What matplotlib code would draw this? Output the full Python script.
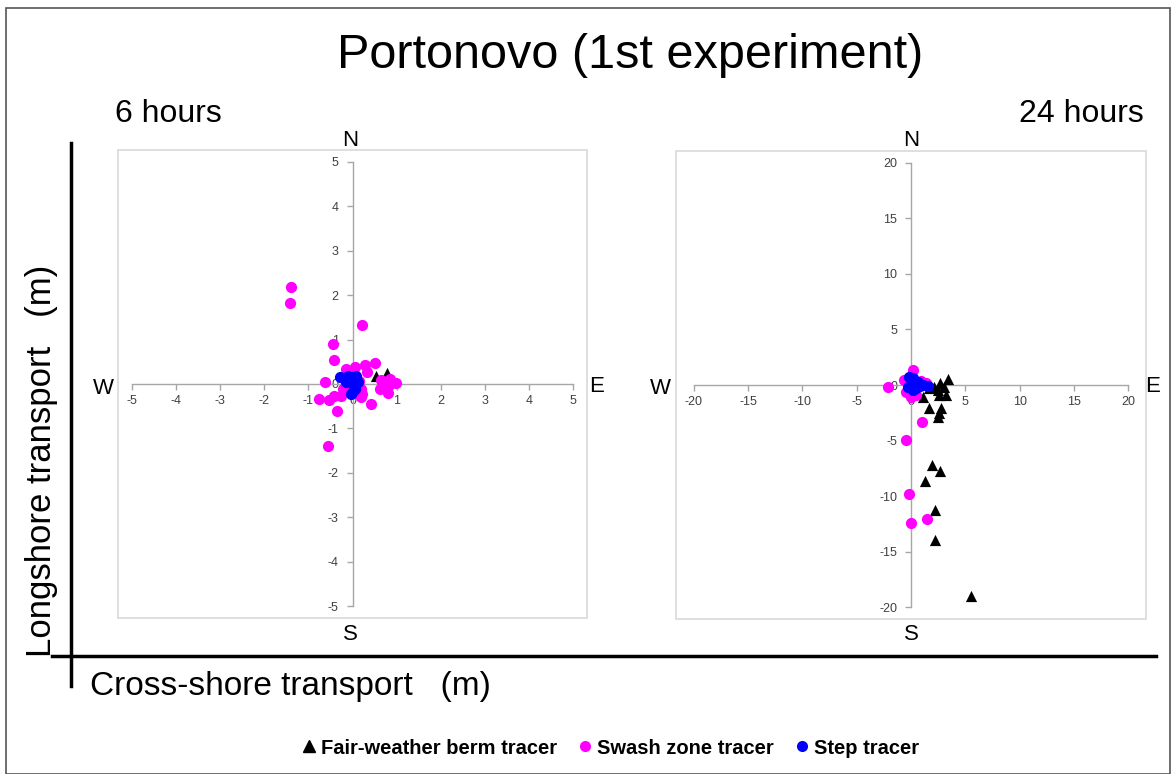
import matplotlib.pyplot as plt
from matplotlib.lines import Line2D
from matplotlib.patches import Rectangle
import numpy as np

plt.rcParams["font.family"] = ["Liberation Sans", "DejaVu Sans"]
plt.rcParams["axes.unicode_minus"] = False

# 6 hours: displacements (m), x = cross-shore, y = longshore
berm6_x = [0.54, 0.78]
berm6_y = [0.17, 0.24]
swash6_x = [-1.40, -1.42, 0.21, -0.44, -0.41, 0.50, 0.29, 0.33, -0.14, 0.05,
            -0.63, 0.65, 0.84, 0.99, 0.82, 0.63, 0.80, -0.76, -0.54, -0.42,
            -0.22, -0.26, 0.19, 0.22, 0.41, -0.36, -0.56, 0.19, 0.15, 0.72]
swash6_y = [2.17, 1.82, 1.33, 0.89, 0.53, 0.47, 0.42, 0.27, 0.34, 0.38,
            0.04, 0.09, 0.12, 0.02, -0.03, -0.11, -0.21, -0.33, -0.36, -0.28,
            -0.11, -0.26, -0.30, -0.22, -0.45, -0.60, -1.40, -0.11, 0.07, 0.05]
step6_x = [-0.29, -0.11, 0.00, 0.12, 0.00, 0.01, -0.03, 0.03, -0.14, 0.07, 0.05]
step6_y = [0.15, 0.19, 0.15, 0.04, 0.00, -0.15, -0.22, -0.07, 0.04, 0.17, -0.12]

# 24 hours
berm24_x = [3.38, 2.71, 2.16, 1.70, 3.08, 2.47, 3.23, 2.62, 1.08, 1.70, 2.77,
            2.47, 2.62, 1.92, 2.68, 1.33, 2.19, 2.22, 5.53]
berm24_y = [0.54, 0.15, -0.15, -0.30, -0.15, -0.45, -0.90, -0.90, -1.05, -2.10,
            -2.10, -2.85, -2.50, -7.20, -7.75, -8.62, -11.26, -14.00, -19.00]
swash24_x = [0.17, -2.13, -0.60, -0.44, 0.48, 1.40, 1.03, 0.00, -0.44, -0.20,
             1.49, 0.00, 0.90]
swash24_y = [1.35, -0.15, 0.45, -0.60, -0.90, 0.15, -3.30, -1.05, -4.95, -9.85,
             -12.10, -12.46, 0.40]
step24_x = [-0.14, 0.18, -0.30, 0.48, 1.08, 1.55, 0.63, 0.10, 0.17, 0.85, 0.30]
step24_y = [0.75, 0.60, -0.15, -0.30, 0.00, -0.06, 0.30, 0.30, -0.45, -0.10, 0.10]

ticks6 = np.arange(-5, 6, 1)
ticks24 = np.arange(-20, 25, 5)

W, H = 1175, 774
fig = plt.figure(figsize=(W / 100, H / 100), dpi=100)


def fx(px):
    return px / W


def fy(py):
    return 1 - py / H


def compass_axes(box, lim, pad_x, pad_y, ticks):
    l, t, r, b = box
    ax = fig.add_axes([fx(l), fy(b), fx(r) - fx(l), fy(t) - fy(b)])
    ax.set_xlim(-lim - pad_x, lim + pad_x)
    ax.set_ylim(-lim - pad_y, lim + pad_y)
    for s in ["top", "right"]:
        ax.spines[s].set_visible(False)
    for s in ["left", "bottom"]:
        ax.spines[s].set_position(("data", 0))
        ax.spines[s].set_color("#a6a6a6")
        ax.spines[s].set_linewidth(1.0)
    ax.spines["bottom"].set_bounds(-lim, lim)
    ax.spines["left"].set_bounds(-lim, lim)
    ax.set_xticks(ticks)
    ax.set_yticks(ticks)
    ax.tick_params(axis="both", direction="out", length=4, width=1,
                   color="#a6a6a6", labelsize=9, labelcolor="#404040")
    ax.tick_params(axis="x", pad=4)
    ax.tick_params(axis="y", pad=6)
    ax.add_patch(Rectangle((0, 0), 1, 1, transform=ax.transAxes, fill=False,
                           ec="#d9d9d9", lw=1.2, clip_on=False, zorder=0))
    return ax


ax1 = compass_axes((118, 150, 587, 618), 5, 0.31, 0.26, ticks6)
ax2 = compass_axes((676, 151, 1146, 619), 20, 1.62, 1.08, ticks24)

ms = 65
for ax, bx, by, sx, sy, tx, ty in [
        (ax1, berm6_x, berm6_y, swash6_x, swash6_y, step6_x, step6_y),
        (ax2, berm24_x, berm24_y, swash24_x, swash24_y, step24_x, step24_y)]:
    ax.scatter(bx, by, marker="^", s=ms, c="black", lw=0, zorder=3)
    ax.scatter(sx, sy, marker="o", s=ms, c="#ff00ff", lw=0, zorder=4)
    ax.scatter(tx, ty, marker="o", s=ms, c="#0000ff", lw=0, zorder=5)

# Compass letters
for x_n, x_w, x_e in [(350, 103, 597), (911, 660, 1153)]:
    fig.text(fx(x_n), fy(140), "N", ha="center", va="center", fontsize=16)
    fig.text(fx(x_n), fy(634), "S", ha="center", va="center", fontsize=16)
    fig.text(fx(x_w), fy(388), "W", ha="center", va="center", fontsize=16)
    fig.text(fx(x_e), fy(386), "E", ha="center", va="center", fontsize=16)

# Titles
fig.text(fx(630), fy(55), "Portonovo (1st experiment)", ha="center",
         va="center", fontsize=35)
fig.text(fx(115), fy(114), "6 hours", ha="left", va="center", fontsize=23)
fig.text(fx(1144), fy(114), "24 hours", ha="right", va="center", fontsize=23)

# Global axes labels and frame lines
fig.text(fx(42), fy(461), "Longshore transport   (m)", rotation=90,
         ha="center", va="center", fontsize=25)
fig.text(fx(90), fy(686), "Cross-shore transport   (m)", ha="left",
         va="center", fontsize=24)
fig.add_artist(Line2D([fx(71), fx(71)], [fy(143), fy(686)], color="black",
                      lw=2.5))
fig.add_artist(Line2D([fx(52), fx(1156)], [fy(656), fy(656)], color="black",
                      lw=2.5))
fig.add_artist(Rectangle((fx(6), fy(774)), fx(1170) - fx(6), fy(8) - fy(774),
                         transform=fig.transFigure, fill=False, ec="#555555",
                         lw=1.2))

# Legend
handles = [
    Line2D([], [], ls="none", marker="^", color="black", ms=8),
    Line2D([], [], ls="none", marker="o", color="#ff00ff", mec="none", ms=8),
    Line2D([], [], ls="none", marker="o", color="#0000ff", mec="none", ms=8),
]
labels = ["Fair-weather berm tracer", "Swash zone tracer", "Step tracer"]
fig.legend(handles, labels, loc="center", bbox_to_anchor=(fx(611), fy(748)),
           ncol=3, frameon=False, handlelength=0.6, handletextpad=0.3,
           columnspacing=1.1, prop={"weight": "bold", "size": 14.5})

fig.savefig("out.png", dpi=100)
